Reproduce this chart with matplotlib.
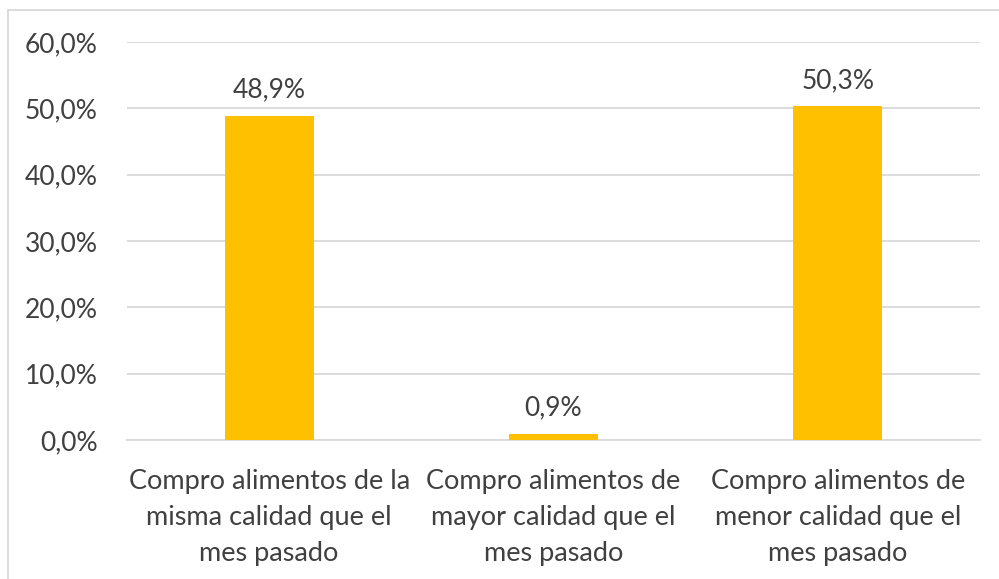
import matplotlib.pyplot as plt
from matplotlib.patches import Rectangle

categories = ["Compro alimentos de la\nmisma calidad que el\nmes pasado",
              "Compro alimentos de\nmayor calidad que el\nmes pasado",
              "Compro alimentos de\nmenor calidad que el\nmes pasado"]
values = [48.9, 0.9, 50.3]
yticks = [0, 10, 20, 30, 40, 50, 60]

plt.rcParams['font.family'] = ['Lato', 'DejaVu Sans']
txt = '#404040'

fig = plt.figure(figsize=(9.99, 5.79), dpi=100)
ax = fig.add_axes([127/999, 1 - 440/579, (980 - 127)/999, (440 - 42)/579])

x = range(len(values))
ax.bar(x, values, width=0.313, color='#FFC000', zorder=3)
for xi, v in zip(x, values):
    ax.text(xi, v + 2.0, f"{v:.1f}%".replace('.', ','), ha='center', va='bottom',
            fontsize=19, color=txt)

ax.set_xlim(-0.5, 2.5)
ax.set_ylim(0, 60)
ax.set_yticks(yticks)
ax.set_yticklabels([f"{t:.1f}%".replace('.', ',') for t in yticks], fontsize=19, color=txt)
ax.set_xticks(list(x))
ax.set_xticklabels(categories, fontsize=19.5, color=txt, linespacing=1.55)
ax.grid(axis='y', color='#D9D9D9', linewidth=1.3, zorder=0)
ax.tick_params(length=0)
ax.tick_params(axis='y', pad=21)
ax.tick_params(axis='x', pad=21)
for s in ['top', 'right', 'left']:
    ax.spines[s].set_visible(False)
ax.spines['bottom'].set_color('#D9D9D9')
ax.spines['bottom'].set_linewidth(1.3)

fig.patches.append(Rectangle((8/999, -0.1), 1.2, 1 - 10/579 + 0.1, transform=fig.transFigure,
                             fill=False, edgecolor='#D9D9D9', linewidth=1.3))

fig.savefig('out.png', dpi=100)
